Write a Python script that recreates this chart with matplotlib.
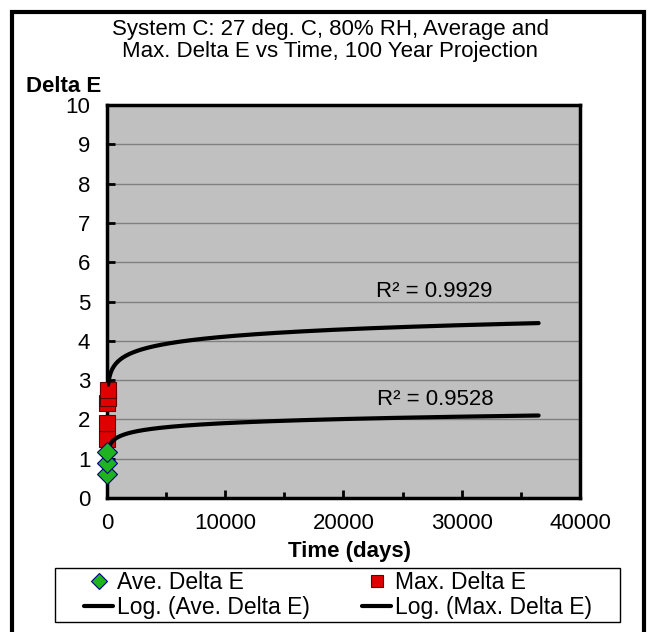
import numpy as np
import matplotlib.pyplot as plt
from matplotlib.patches import Rectangle
from matplotlib.ticker import MultipleLocator

plt.rcParams['font.family'] = ['Liberation Sans', 'DejaVu Sans']

# measured points (all in the first few weeks)
ave_days = [7, 14, 28]
ave_delta_e = [0.61, 0.89, 1.17]
max_days = [7, 14, 28, 56, 84]
max_delta_e = [1.49, 1.90, 2.41, 2.55, 2.76]

# logarithmic trendlines y = a*ln(x) + b
ave_log_a, ave_log_b = 0.150, 0.524
max_log_a, max_log_b = 0.2656, 1.661
trend_start, trend_end = 100, 36500  # days (100 year projection)

ave_r2 = "R² = 0.9528"
max_r2 = "R² = 0.9929"

FS = 16

fig = plt.figure(figsize=(6.54, 6.32), dpi=100)
ax = fig.add_axes([0.1636, 0.2120, 0.7232, 0.6218])
ax.set_facecolor('#C0C0C0')

t = np.linspace(trend_start, trend_end, 2000)
ave_line, = ax.plot(t, ave_log_a * np.log(t) + ave_log_b, color='black', lw=3, zorder=4,
                    solid_capstyle='round')
max_line, = ax.plot(t, max_log_a * np.log(t) + max_log_b, color='black', lw=3, zorder=4,
                    solid_capstyle='round')

ave_pts, = ax.plot(ave_days, ave_delta_e, linestyle='none', marker='D', markersize=10,
                   markerfacecolor='#1FB31F', markeredgecolor='#000080', markeredgewidth=0.8,
                   zorder=5, clip_on=False)
max_pts, = ax.plot(max_days, max_delta_e, linestyle='none', marker='s', markersize=11.5,
                   markerfacecolor='#E00000', markeredgecolor='#600000', markeredgewidth=0.8,
                   zorder=3, clip_on=False)

ax.text(27650, 5.25, max_r2, fontsize=FS, ha='center', va='center')
ax.text(27800, 2.50, ave_r2, fontsize=FS, ha='center', va='center')

ax.set_xlim(0, 40000)
ax.set_ylim(0, 10)
ax.xaxis.set_major_locator(MultipleLocator(10000))
ax.xaxis.set_minor_locator(MultipleLocator(5000))
ax.yaxis.set_major_locator(MultipleLocator(1))
ax.grid(axis='y', color='#808080', lw=1, zorder=0)
ax.set_axisbelow(True)
ax.tick_params(axis='both', which='major', direction='in', length=6, width=2,
               labelsize=FS)
ax.tick_params(axis='x', which='major', pad=11)
ax.tick_params(axis='y', which='major', pad=12)
ax.tick_params(axis='x', which='minor', direction='in', length=4, width=2)
for s in ax.spines.values():
    s.set_linewidth(2.5)
    s.set_color('black')

fig.text(349 / 654, 1 - 551 / 632, "Time (days)", fontsize=FS, fontweight='bold',
         ha='center', va='center')
fig.text(64 / 654, 1 - 86 / 632, "Delta E", fontsize=FS, fontweight='bold',
         ha='center', va='center')
fig.text(330 / 654, 1 - 30 / 632, "System C: 27 deg. C, 80% RH, Average and",
         fontsize=FS, ha='center', va='center')
fig.text(330 / 654, 1 - 52 / 632, "Max. Delta E vs Time, 100 Year Projection",
         fontsize=FS, ha='center', va='center')

leg = fig.legend([ave_pts, ave_line, max_pts, max_line],
                 ["Ave. Delta E", "Log. (Ave. Delta E)", "Max. Delta E", "Log. (Max. Delta E)"],
                 ncol=2, loc='center', bbox_to_anchor=(338 / 654, 1 - 595 / 632),
                 fontsize=16.5, frameon=False, markerscale=0.8,
                 borderpad=0, labelspacing=0.1, handlelength=1.27, handletextpad=0.17,
                 columnspacing=2.27, borderaxespad=0)

# legend box
fig.patches.append(Rectangle((55 / 654, 1 - 622 / 632), 565 / 654, 54 / 632,
                             transform=fig.transFigure, fill=False, edgecolor='black',
                             lw=1, zorder=10))
# outer chart border
fig.patches.append(Rectangle((12 / 654, -0.02), 632 / 654, 1 - 12 / 632 + 0.02,
                             transform=fig.transFigure, fill=False, edgecolor='black',
                             lw=3, zorder=10))

fig.savefig("out.png", dpi=100)
